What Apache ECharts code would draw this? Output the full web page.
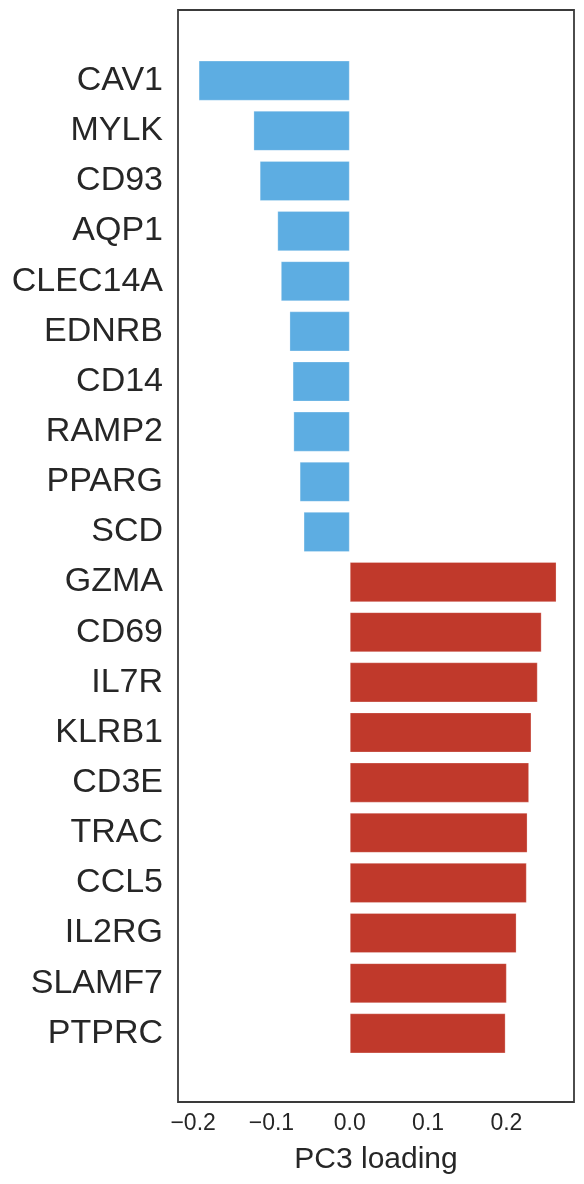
<!DOCTYPE html>
<html>
<head>
<meta charset="utf-8">
<script src="https://cdn.jsdelivr.net/npm/echarts@6/dist/echarts.min.js"></script>
<style>
  html, body { margin: 0; padding: 0; background: #fff; }
  #chart { width: 584px; height: 1184px; }
</style>
</head>
<body>
<div id="chart"></div>
<script>
// genes, top to bottom
const genes = ['CAV1', 'MYLK', 'CD93', 'AQP1', 'CLEC14A', 'EDNRB', 'CD14', 'RAMP2', 'PPARG', 'SCD',
  'GZMA', 'CD69', 'IL7R', 'KLRB1', 'CD3E', 'TRAC', 'CCL5', 'IL2RG', 'SLAMF7', 'PTPRC'];
const loadings = [-0.193, -0.123, -0.115, -0.0925, -0.088, -0.077, -0.073, -0.072, -0.064, -0.059,
  0.264, 0.245, 0.240, 0.232, 0.229, 0.227, 0.226, 0.213, 0.2005, 0.199];
const xTicks = [-0.2, -0.1, 0.0, 0.1, 0.2];
const xName = 'PC3 loading';

const xMin = -0.2193;
const xMax = 0.2863;
const textColor = '#262626';
const font = 'Liberation Sans, Arial, sans-serif';

const chart = echarts.init(document.getElementById('chart'));

const option = {
  animation: false,
  grid: [
    // frame
    { left: 178, right: 10, top: 10, bottom: 82, show: true, borderColor: '#3a3a3a', borderWidth: 1.8, backgroundColor: 'transparent' },
    // bars
    { left: 178, right: 10, top: 55.6, bottom: 125.6 },
  ],
  xAxis: [
    {
      gridIndex: 0,
      type: 'value',
      min: xMin,
      max: xMax,
      splitLine: { show: false },
      axisLine: { show: false },
      axisTick: { show: false },
      axisLabel: {
        customValues: xTicks,
        margin: 10,
        fontSize: 23,
        color: textColor,
        fontFamily: font,
        formatter: (v) => (v < 0 ? '\u2212' + Math.abs(v).toFixed(1) : v.toFixed(1)),
      },
      name: xName,
      nameLocation: 'middle',
      nameGap: 43,
      nameTextStyle: { fontSize: 30, color: textColor, fontFamily: font },
    },
    {
      gridIndex: 1,
      type: 'value',
      min: xMin,
      max: xMax,
      show: false,
    },
  ],
  yAxis: [
    {
      gridIndex: 0,
      type: 'value',
      show: false,
    },
    {
      gridIndex: 1,
      type: 'category',
      inverse: true,
      data: genes,
      axisLine: { show: false },
      axisTick: { show: false },
      splitLine: { show: false },
      axisLabel: {
        margin: 15,
        fontSize: 34,
        color: textColor,
        fontFamily: font,
      },
    },
  ],
  series: [
    {
      type: 'bar',
      xAxisIndex: 1,
      yAxisIndex: 1,
      data: loadings,
      barWidth: '80%',
      itemStyle: {
        color: (p) => (p.value < 0 ? '#5dade2' : '#c0392b'),
        borderColor: 'rgba(255,255,255,0.25)',
        borderWidth: 1,
      },
    },
  ],
};

chart.setOption(option);
</script>
</body>
</html>
